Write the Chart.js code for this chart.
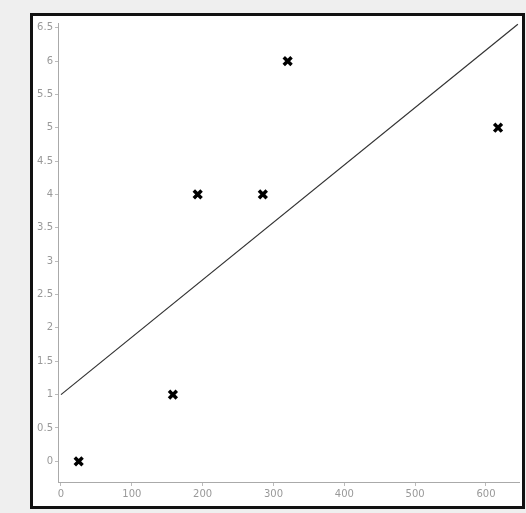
<!DOCTYPE html>
<html>
<head>
<meta charset="utf-8">
<script src="https://cdn.jsdelivr.net/npm/chart.js@4.4.0/dist/chart.umd.min.js"></script>
<style>
html,body{margin:0;padding:0;background:#efefef;width:526px;height:513px;overflow:hidden;}
#frame{position:absolute;left:30px;top:13px;width:489px;height:490px;border:3px solid #111;background:#fff;overflow:hidden;}
canvas{display:block;position:absolute;left:0;top:-2px;}
</style>
</head>
<body>
<div id="frame"><canvas id="c" width="495" height="491"></canvas></div>
<script>
// data
const pointX = [25, 158, 193, 285, 320, 617];
const pointY = [0, 1, 4, 4, 6, 5];
const fitX = [0, 645];
const fitY = [1, 6.55];
const xTicks = [0, 100, 200, 300, 400, 500, 600];
const yTicks = [0, 0.5, 1, 1.5, 2, 2.5, 3, 3.5, 4, 4.5, 5, 5.5, 6, 6.5];

const pts = pointX.map((x, i) => ({x: x, y: pointY[i]}));
const fit = fitX.map((x, i) => ({x: x, y: fitY[i]}));

new Chart(document.getElementById('c'), {
  type: 'scatter',
  data: {
    datasets: [
      {
        type: 'line',
        data: fit,
        borderColor: '#333',
        borderWidth: 1.2,
        pointRadius: 0,
        fill: false
      },
      {
        data: pts,
        pointStyle: 'crossRot',
        pointRadius: 5.5,
        pointBorderWidth: 3.5,
        borderColor: '#000',
        backgroundColor: '#000'
      }
    ]
  },
  options: {
    responsive: false,
    animation: false,
    layout: {padding: {top: 0, right: 0, left: 0, bottom: 0}},
    plugins: {legend: {display: false}, tooltip: {enabled: false}},
    scales: {
      x: {
        type: 'linear',
        min: -4.2,
        max: 646.6,
        afterBuildTicks: s => { s.ticks = xTicks.map(v => ({value: v})); },
        afterFit: s => { s.height = 23; },
        grid: {drawOnChartArea: false, tickLength: 4, color: '#bbb'},
        border: {color: '#aaa', width: 1},
        ticks: {color: '#999', font: {family: 'DejaVu Sans', size: 10}, padding: 2, maxRotation: 0,
                callback: v => String(v)}
      },
      y: {
        type: 'linear',
        min: -0.31,
        max: 6.57,
        afterBuildTicks: s => { s.ticks = yTicks.map(v => ({value: v})); },
        afterFit: s => { s.width = 25; },
        grid: {drawOnChartArea: false, tickLength: 3, color: '#bbb'},
        border: {color: '#aaa', width: 1},
        ticks: {color: '#999', font: {family: 'DejaVu Sans', size: 10}, padding: 2,
                callback: v => String(v)}
      }
    }
  }
});
</script>
</body>
</html>
